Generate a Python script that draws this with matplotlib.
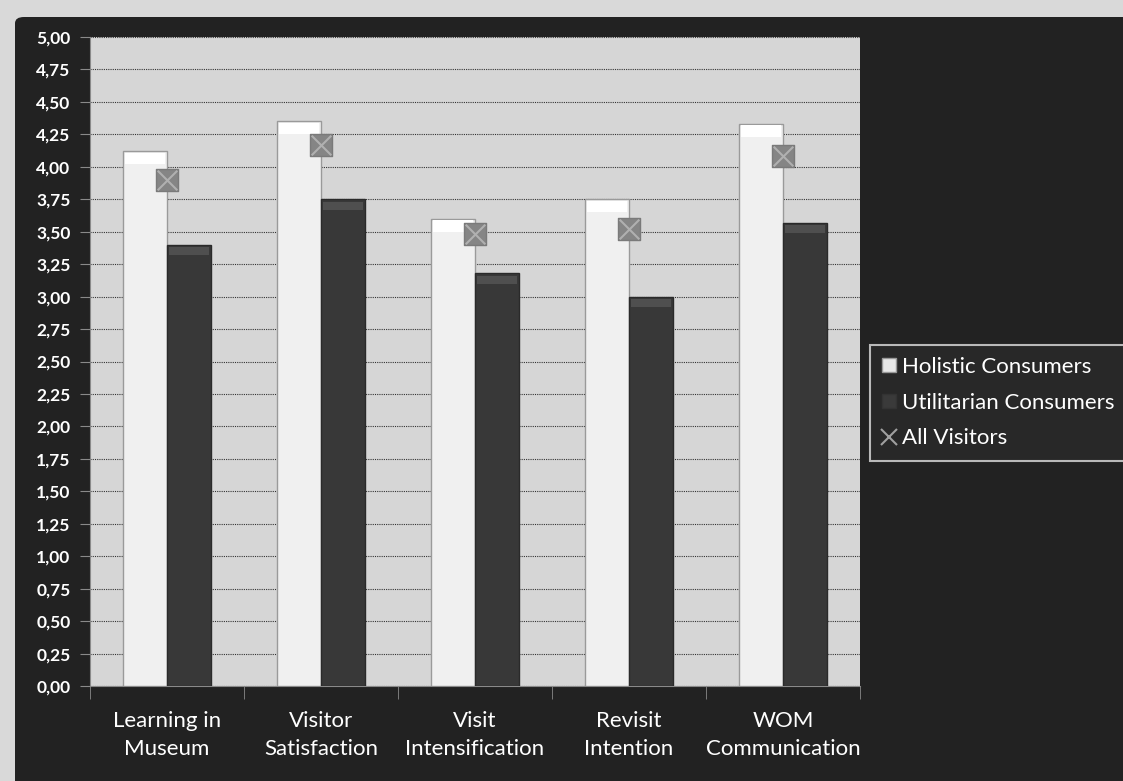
import matplotlib.pyplot as plt
import numpy as np
from matplotlib.patches import FancyBboxPatch
from matplotlib.ticker import FuncFormatter, MultipleLocator
from matplotlib.lines import Line2D
from matplotlib.patches import Patch

# Data
categories = ["Learning in\nMuseum", "Visitor\nSatisfaction", "Visit\nIntensification",
              "Revisit\nIntention", "WOM\nCommunication"]
holistic = [4.12, 4.35, 3.60, 3.75, 4.33]
utilitarian = [3.40, 3.75, 3.18, 3.00, 3.57]
all_visitors = [3.90, 4.17, 3.48, 3.52, 4.08]

plt.rcParams['font.family'] = ['Lato', 'DejaVu Sans']

W, H = 1123, 781
fig = plt.figure(figsize=(W / 100, H / 100), dpi=100, facecolor='#d9d9d9')

# dark panel behind the chart
panel = FancyBboxPatch((15 / W, -0.05), 1.1, (H - 17) / H + 0.05,
                       boxstyle="round,pad=0,rounding_size=0.008",
                       transform=fig.transFigure, facecolor='#222222',
                       edgecolor='none', zorder=-10)
fig.patches.append(panel)

ax = fig.add_axes([90 / W, (H - 686) / H, 770 / W, 649 / H], zorder=2)
ax.set_facecolor('#d6d6d6')

x = np.arange(len(categories))
width = 0.286

ax.bar(x - width / 2, holistic, width, color='#f0f0f0', edgecolor='#9a9a9a',
       linewidth=1, zorder=3, label='Holistic Consumers')
ax.bar(x + width / 2, utilitarian, width, color='#383838', edgecolor='#2a2a2a',
       linewidth=1, zorder=3, label='Utilitarian Consumers')
# top bevel highlights
ax.bar(x - width / 2, [0.09] * 5, width * 0.9, bottom=np.array(holistic) - 0.1,
       color='#ffffff', zorder=4)
ax.bar(x + width / 2, [0.06] * 5, width * 0.9, bottom=np.array(utilitarian) - 0.08,
       color='#4f4f4f', zorder=4)

ax.scatter(x, all_visitors, marker='s', s=260, color='#858585', edgecolor='#7a7a7a',
           zorder=5)
ax.scatter(x, all_visitors, marker='x', s=200, color='#b0b0b0', linewidths=1.5,
           zorder=6)

ax.set_xlim(-0.5, 4.5)
ax.set_ylim(0, 5)
ax.yaxis.set_major_locator(MultipleLocator(0.25))
ax.yaxis.set_major_formatter(FuncFormatter(lambda v, p: f"{v:.2f}".replace('.', ',')))
ax.grid(axis='y', color='#333333', linestyle=(0, (1, 1)), linewidth=0.8, zorder=1)
ax.set_axisbelow(True)

for s in ['top', 'right']:
    ax.spines[s].set_visible(False)
ax.spines['left'].set_color('#8a8a8a')
ax.spines['bottom'].set_color('#8a8a8a')

ax.set_xticks(x)
ax.set_xticklabels(categories, color='white', fontsize=16, linespacing=1.5)
ax.set_xticks(np.arange(-0.5, 5.0, 1.0), minor=True)
ax.tick_params(axis='x', which='major', length=0, pad=18)
ax.tick_params(axis='x', which='minor', length=9, color='#8a8a8a')
ax.tick_params(axis='y', colors='white', labelsize=12.5, length=7, color='#8a8a8a', pad=7)
for lbl in ax.get_yticklabels():
    lbl.set_fontweight('bold')

handles = [Patch(facecolor='#e8e8e8', edgecolor='#999999'),
           Patch(facecolor='#3a3a3a', edgecolor='#333333'),
           Line2D([], [], marker='x', color='#a0a0a0', linestyle='none',
                  markersize=12, markeredgewidth=1.5)]
leg = fig.legend(handles, ['Holistic Consumers', 'Utilitarian Consumers', 'All Visitors'],
                 loc='upper left', bbox_to_anchor=(870 / W, 1 - 345 / H),
                 frameon=True, fontsize=16, labelcolor='white',
                 handlelength=0.6, handleheight=0.6, handletextpad=0.3,
                 borderpad=0.55, labelspacing=0.7, fancybox=False, borderaxespad=0)
frame = leg.get_frame()
frame.set_facecolor('#2a2a2a')
frame.set_edgecolor('#e0e0e0')
frame.set_linewidth(1.5)

fig.savefig('out.png', dpi=100, facecolor=fig.get_facecolor())
